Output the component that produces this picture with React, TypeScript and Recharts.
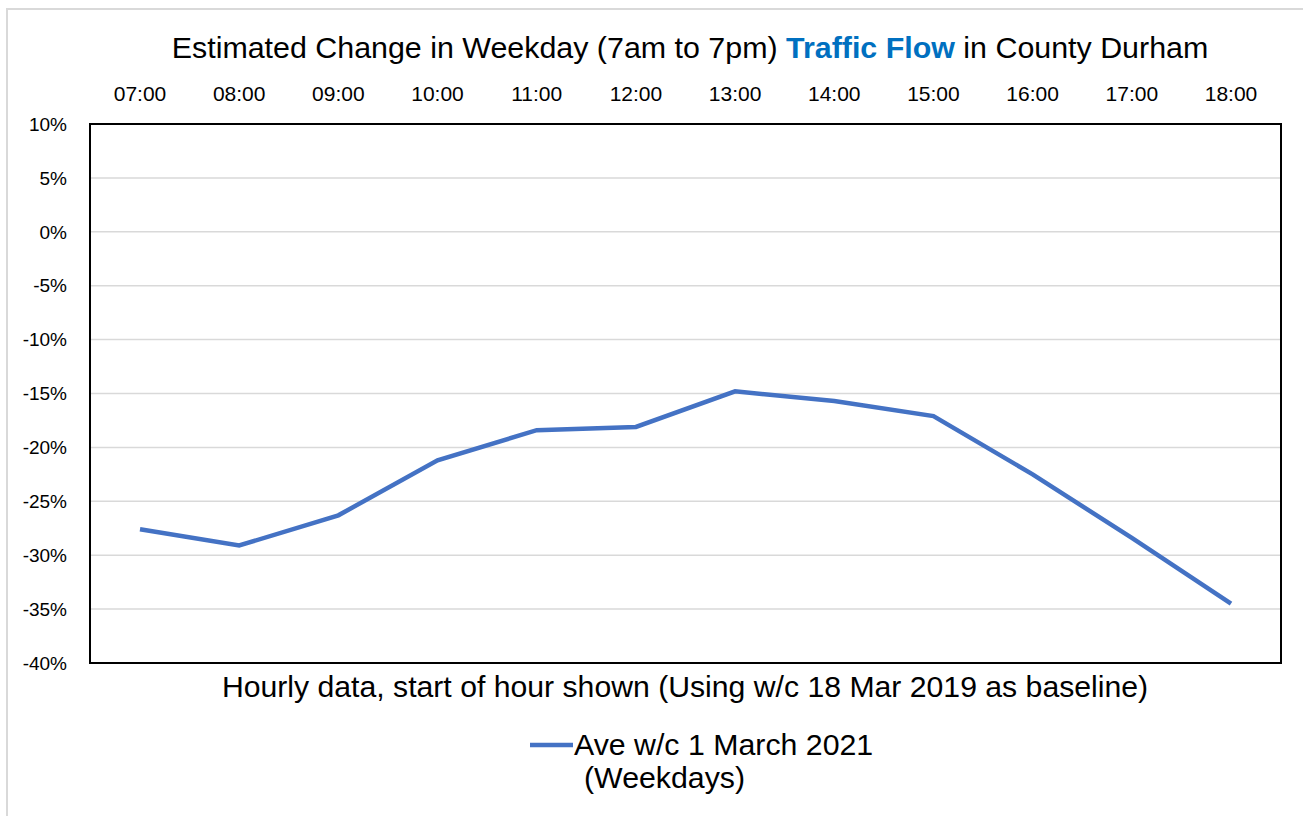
import React from "react";
import { LineChart, Line, XAxis, YAxis, CartesianGrid, Legend } from "recharts";

const hours = ["07:00", "08:00", "09:00", "10:00", "11:00", "12:00", "13:00", "14:00", "15:00", "16:00", "17:00", "18:00"];
const changePct = [-27.6, -29.1, -26.3, -21.2, -18.4, -18.1, -14.8, -15.7, -17.1, -22.5, -28.4, -34.5];
const yTicks = [10, 5, 0, -5, -10, -15, -20, -25, -30, -35, -40];
const seriesName = "Ave w/c 1 March 2021";
const seriesSub = "(Weekdays)";

const data = hours.map((h, i) => ({ hour: h, value: changePct[i] }));

const FONT = "'Liberation Sans', Arial, sans-serif";
const BLUE = "#4472C4";

const LegendContent = () => (
  <div style={{ fontFamily: FONT, color: "#000", fontSize: 30.3, lineHeight: "33px", display: "flex", whiteSpace: "nowrap" }}>
    <svg width={46} height={33} style={{ display: "block" }}>
      <line x1={2} y1={17} x2={45} y2={17} stroke={BLUE} strokeWidth={4.5} />
    </svg>
    <div>
      <div>{seriesName}</div>
      <div style={{ paddingLeft: 10 }}>{seriesSub}</div>
    </div>
  </div>
);

export default function App() {
  return (
    <div style={{ position: "absolute", left: 0, top: 0, width: 1303, height: 816, background: "#fff", overflow: "hidden", fontFamily: FONT }}>
      <div style={{ position: "absolute", left: 6, top: 8, width: 1320, height: 830, border: "2px solid #d9d9d9", boxSizing: "border-box" }} />
      <div style={{ position: "absolute", left: 0, top: 27, width: 1380, textAlign: "center", fontSize: 30.4, color: "#000", lineHeight: "40px", whiteSpace: "nowrap" }}>
        Estimated Change in Weekday (7am to 7pm) <span style={{ color: "#0070C0", fontWeight: "bold" }}>Traffic Flow</span> in County Durham
      </div>
      <div style={{ position: "absolute", left: 0, top: 0 }}>
        <LineChart width={1303} height={816} data={data} margin={{ top: 64, right: 22, bottom: 153, left: 0 }}>
          <CartesianGrid vertical={false} stroke="#d9d9d9" strokeWidth={1.5} />
          <XAxis
            dataKey="hour"
            orientation="top"
            height={60}
            axisLine={false}
            tickLine={false}
            tickMargin={17}
            interval={0}
            padding={{ left: 50, right: 50 }}
            tick={{ fontSize: 21, fill: "#000", fontFamily: FONT }}
          />
          <YAxis
            type="number"
            domain={[-40, 10]}
            ticks={yTicks}
            width={90}
            axisLine={false}
            tickLine={false}
            tickMargin={17}
            interval={0}
            tickFormatter={(v: number) => `${v}%`}
            tick={{ fontSize: 19, fill: "#000", fontFamily: FONT }}
          />
          <Line
            type="linear"
            dataKey="value"
            name={seriesName}
            stroke={BLUE}
            strokeWidth={4.5}
            dot={false}
            isAnimationActive={false}
          />
          <Legend
            verticalAlign="middle"
            align="center"
            layout="horizontal"
            content={<LegendContent />}
            wrapperStyle={{ position: "absolute", left: 528, top: 728, width: "auto" }}
          />
        </LineChart>
      </div>
      <div style={{ position: "absolute", left: 89, top: 123, width: 1193, height: 541, border: "2px solid #000", boxSizing: "border-box", pointerEvents: "none" }} />
      <div style={{ position: "absolute", left: 0, top: 667, width: 1370, textAlign: "center", fontSize: 30.2, color: "#000", lineHeight: "40px", whiteSpace: "nowrap" }}>
        Hourly data, start of hour shown (Using w/c 18 Mar 2019 as baseline)
      </div>
    </div>
  );
}
